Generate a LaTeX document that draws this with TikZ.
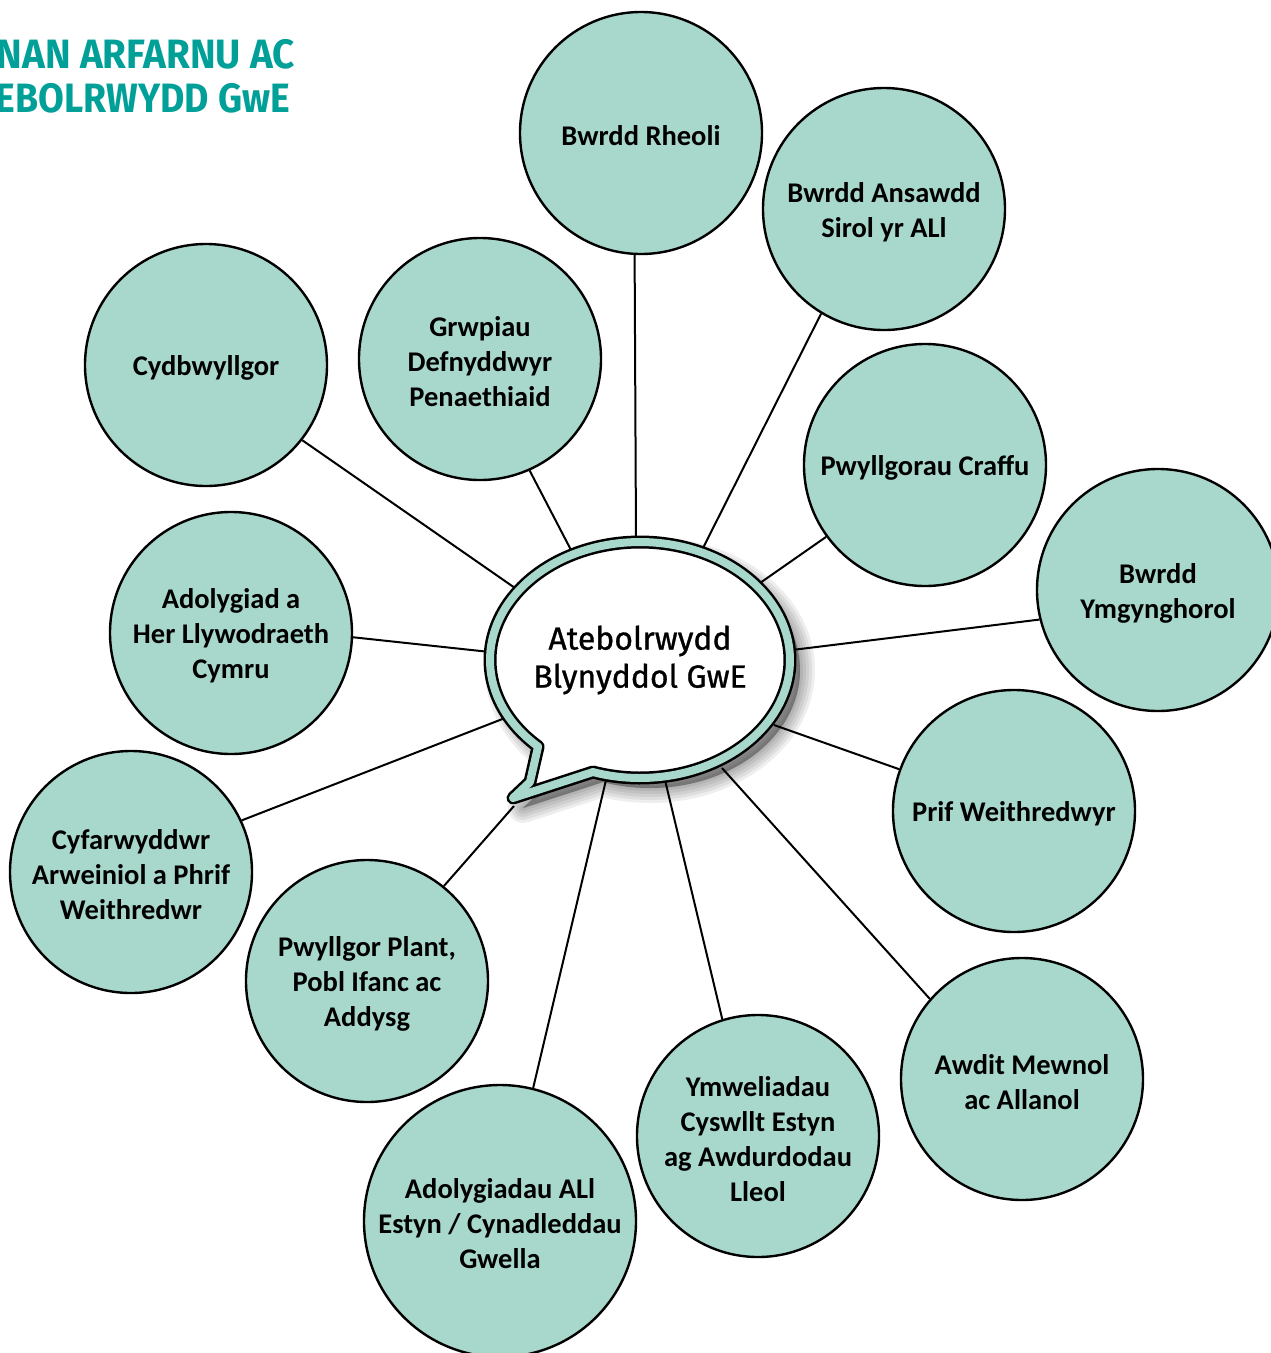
\documentclass[tikz,border=0pt]{standalone}
\usepackage{fontspec}
\setmainfont{Carlito}
\newfontfamily\bubblefont[FakeBold=0.9]{Fira Sans}
\newfontfamily\titlefont{Fira Sans}
\definecolor{mint}{RGB}{168,215,203}
\definecolor{titleteal}{RGB}{0,160,152}
\tikzset{
  topic/.style={circle, draw=black, line width=2.4pt, fill=mint, minimum size=242pt, inner sep=0pt},
  topictext/.style={align=center, inner sep=0pt, font=\bfseries\fontsize{28.5}{35}\selectfont},
  link/.style={line width=2pt, draw=black},
  titletext/.style={anchor=base east, inner sep=0pt, text=titleteal,
    font=\titlefont\bfseries\fontsize{41}{48}\selectfont},
}
\def\bubblepath{plot[domain=132.8:468.3, samples=150] ({640+150*cos(\x)},{660+118*sin(\x)}) -- (513,798) -- (530,782) -- cycle}
\newcommand\topic[4]{%
  \node[topic,#4] (#1) at (#2) {};
  \node[topictext] (#1t) at ([yshift=-3pt]#1.center) {#3};}
\begin{document}
\begin{tikzpicture}[x=1pt,y=-1pt]
\useasboundingbox (0,0) rectangle (1271,1353);
\begin{scope}
\clip (0,0) rectangle (1271,1353);
% title
\node[titletext] (t1) at (295,68) {\resizebox{298pt}{\height}{NAN ARFARNU AC}};
\node[titletext] (t2) at (290,112) {\resizebox{294pt}{\height}{EBOLRWYDD GwE}};
% topics
\topic{c1}{641,133}{Bwrdd Rheoli}{}
\topic{c2}{884,209}{Bwrdd Ansawdd\\Sirol yr ALl}{}
\topic{c3}{206,365}{Cydbwyllgor}{}
\topic{c4}{480,359}{Grwpiau\\Defnyddwyr\\Penaethiaid}{}
\topic{c5}{925,465}{Pwyllgorau Craffu}{}
\topic{c6}{1158,590}{Bwrdd\\Ymgynghorol}{}
\topic{c7}{231,633}{Adolygiad a\\Her Llywodraeth\\Cymru}{}
\topic{c8}{1014,811}{Prif Weithredwyr}{}
\topic{c9}{131,872}{Cyfarwyddwr\\Arweiniol a Phrif\\Weithredwr}{}
\topic{c10}{367,981}{Pwyllgor Plant,\\Pobl Ifanc ac\\Addysg}{}
\topic{c11}{1022,1079}{Awdit Mewnol\\ac Allanol}{}
\topic{c12}{758,1136}{Ymweliadau\\Cyswllt Estyn\\ag Awdurdodau\\Lleol}{}
\topic{c13}{500,1221}{Adolygiadau ALl\\Estyn / Cynadleddau\\Gwella}{minimum size=272pt}
% connectors: bubble end -> circle border
\coordinate (b1) at (636,540);
\coordinate (b2) at (703,548);
\coordinate (b3) at (515,588);
\coordinate (b4) at (571,550);
\coordinate (b5) at (760,583);
\coordinate (b6) at (792,650);
\coordinate (b7) at (490,652);
\coordinate (b8) at (774,725);
\coordinate (b9) at (505,718);
\coordinate (b10) at (514,806);
\coordinate (b11) at (722,768);
\coordinate (b12) at (665,780);
\coordinate (b13) at (606,780);
\foreach \i/\a in {1/267.6,2/239.2,3/322.3,4/294.7,5/216.4,6/194.8,7/358.6,8/160.1,9/25.5,10/51,11/139.4,12/107.8,13/76.1}
  \draw[link] (b\i) -- (c\i.\a);
% shadow
\begin{scope}[shift={(10,10)}]
  \foreach \w in {30,24,18,12,6,1}
    \filldraw[black, opacity=0.065, line width=\w pt, line join=round] \bubblepath;
\end{scope}
% bubble
\fill[white] \bubblepath;
\draw[black, line width=13pt, line join=round] \bubblepath;
\draw[mint, line width=8pt, line join=round] \bubblepath;
\node[align=center, font=\bubblefont\fontsize{32}{38}\selectfont] (bub) at (640,660) {Atebolrwydd\\Blynyddol GwE};
\end{scope}
\end{tikzpicture}
\end{document}
